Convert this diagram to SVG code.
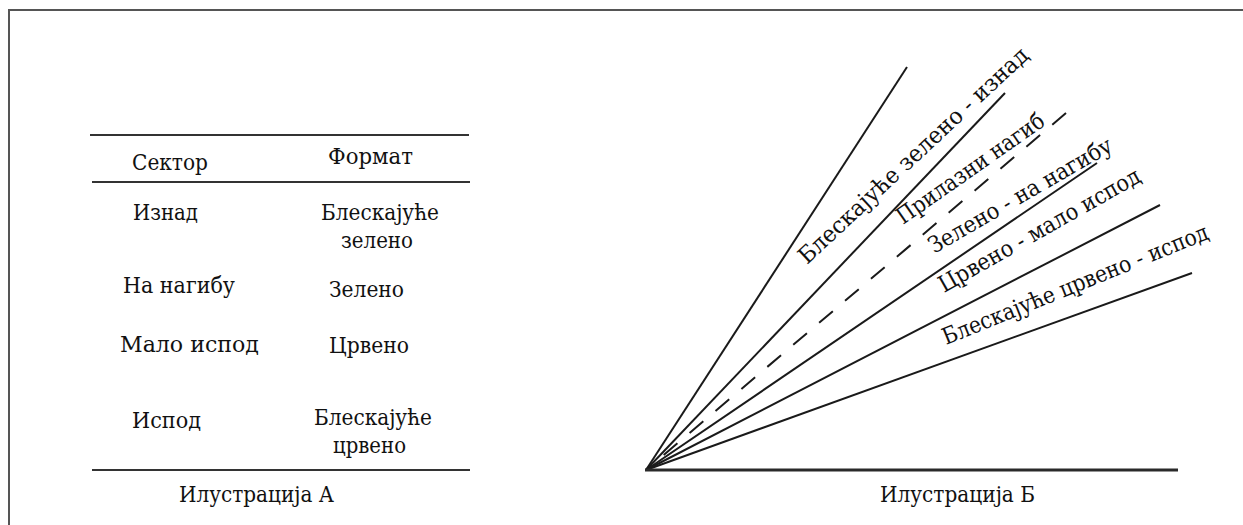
<svg xmlns="http://www.w3.org/2000/svg" width="1243" height="525" viewBox="0 0 1243 525">
<style>
text{font-family:"DejaVu Serif","Liberation Serif",serif;font-size:23px;fill:#111}
.frame{stroke:#555;stroke-width:2;fill:none}
.rule{stroke:#333;stroke-width:2}
.ray{stroke:#1a1a1a;stroke-width:2;fill:none}
.dash{stroke-dasharray:18 16}
.base{stroke:#2a2a2a;stroke-width:3}
</style>
<rect width="1243" height="525" fill="#fff"/>
<path class="frame" d="M9,525 V10 H1243"/>
<g id="table-a">
<line class="rule" x1="90" y1="135" x2="469" y2="135"/>
<line class="rule" x1="92" y1="182" x2="470" y2="182"/>
<line class="rule" x1="92" y1="470" x2="470" y2="470"/>
<text x="132" y="170" textLength="76" lengthAdjust="spacingAndGlyphs">Сектор</text>
<text x="328" y="164" textLength="85" lengthAdjust="spacingAndGlyphs">Формат</text>
<text x="133" y="220" textLength="65" lengthAdjust="spacingAndGlyphs">Изнад</text>
<text x="321" y="220" textLength="118" lengthAdjust="spacingAndGlyphs">Блескајуће</text>
<text x="341" y="248" textLength="72" lengthAdjust="spacingAndGlyphs">зелено</text>
<text x="123" y="293" textLength="112" lengthAdjust="spacingAndGlyphs">На нагибу</text>
<text x="329" y="297" textLength="75" lengthAdjust="spacingAndGlyphs">Зелено</text>
<text x="120" y="352" textLength="139" lengthAdjust="spacingAndGlyphs">Мало испод</text>
<text x="329" y="353" textLength="80" lengthAdjust="spacingAndGlyphs">Црвено</text>
<text x="132" y="428" textLength="69" lengthAdjust="spacingAndGlyphs">Испод</text>
<text x="314" y="425" textLength="118" lengthAdjust="spacingAndGlyphs">Блескајуће</text>
<text x="333" y="453" textLength="73" lengthAdjust="spacingAndGlyphs">црвено</text>
<text x="179" y="502" textLength="155" lengthAdjust="spacingAndGlyphs">Илустрација А</text>
</g>
<g id="connectors">
<line class="ray" x1="646" y1="470" x2="907" y2="67"/>
<line class="ray" x1="646" y1="470" x2="1005" y2="93"/>
<line class="ray dash" x1="1066" y1="113" x2="646" y2="470"/>
<line class="ray" x1="646" y1="470" x2="1097" y2="163"/>
<line class="ray" x1="646" y1="470" x2="1160" y2="205"/>
<line class="ray" x1="646" y1="470" x2="1192" y2="273"/>
<line class="base" x1="645" y1="470" x2="1178" y2="470"/>
</g>
<g id="labels-b">
<text transform="translate(807,265) rotate(-43)" textLength="305" lengthAdjust="spacingAndGlyphs">Блескајуће зелено - изнад</text>
<text transform="translate(903,225) rotate(-35)" textLength="175" lengthAdjust="spacingAndGlyphs">Прилазни нагиб</text>
<text transform="translate(934,254) rotate(-30)" textLength="208" lengthAdjust="spacingAndGlyphs">Зелено - на нагибу</text>
<text transform="translate(944,293) rotate(-29.5)" textLength="228" lengthAdjust="spacingAndGlyphs">Црвено - мало испод</text>
<text transform="translate(946,345) rotate(-22)" textLength="285" lengthAdjust="spacingAndGlyphs">Блескајуће црвено - испод</text>
<text x="880" y="502" textLength="155" lengthAdjust="spacingAndGlyphs">Илустрација Б</text>
</g>
</svg>
